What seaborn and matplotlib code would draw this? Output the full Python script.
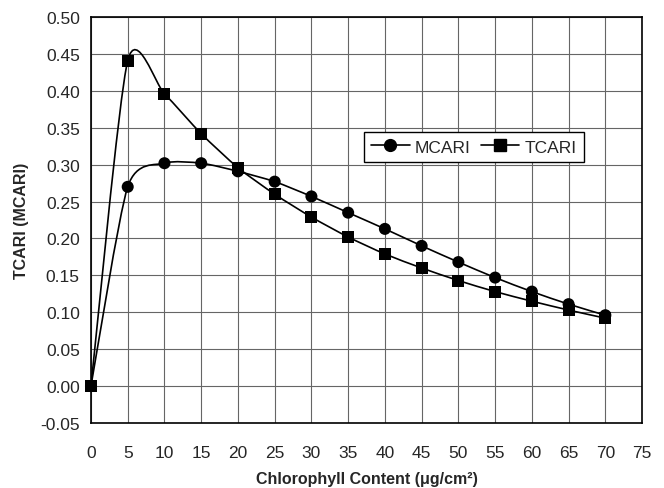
import numpy as np
import pandas as pd
import matplotlib
matplotlib.use('Agg')
import matplotlib.pyplot as plt
import seaborn as sns
from matplotlib.path import Path
from matplotlib.patches import PathPatch
from matplotlib.lines import Line2D

chl = [0, 5, 10, 15, 20, 25, 30, 35, 40, 45, 50, 55, 60, 65, 70]
mcari = [0.0, 0.270, 0.302, 0.302, 0.291, 0.277, 0.257, 0.235, 0.213, 0.190, 0.168, 0.147, 0.128, 0.111, 0.096]
tcari = [0.0, 0.441, 0.396, 0.342, 0.296, 0.260, 0.229, 0.202, 0.179, 0.160, 0.143, 0.128, 0.115, 0.103, 0.092]

df = pd.DataFrame({'chl': chl * 2, 'val': mcari + tcari,
                   'index': ['MCARI'] * len(chl) + ['TCARI'] * len(chl)})

sns.set_style('white')
plt.rcParams['font.family'] = ['Liberation Sans', 'DejaVu Sans']

fig = plt.figure(figsize=(6.64, 4.89), dpi=100)
ax = fig.add_axes([0.137, 0.133, 0.83, 0.83])


def smooth_path(x, y, k=0.12):
    # excel style smoothed line: cubic bezier through the points
    pts = np.column_stack([x, y]).astype(float)
    n = len(pts)
    verts = [pts[0]]
    codes = [Path.MOVETO]
    for i in range(n - 1):
        p0 = pts[max(i - 1, 0)]
        p1 = pts[i]
        p2 = pts[i + 1]
        p3 = pts[min(i + 2, n - 1)]
        verts += [p1 + (p2 - p0) * k, p2 - (p3 - p1) * k, p2]
        codes += [Path.CURVE4] * 3
    return Path(verts, codes)


for name in ['MCARI', 'TCARI']:
    sub = df[df['index'] == name]
    ax.add_patch(PathPatch(smooth_path(sub['chl'].values, sub['val'].values),
                           facecolor='none', edgecolor='black', lw=1.2, zorder=3))

sns.scatterplot(data=df, x='chl', y='val', style='index', markers={'MCARI': 'o', 'TCARI': 's'},
                color='black', s=75, edgecolor='black', linewidth=0, ax=ax, legend=False,
                zorder=4, clip_on=False)

ax.set_xlim(0, 75)
ax.set_ylim(-0.05, 0.50)
ax.set_xticks(np.arange(0, 76, 5))
ax.set_yticks(np.arange(-0.05, 0.501, 0.05))
ax.yaxis.set_major_formatter(matplotlib.ticker.FormatStrFormatter('%.2f'))
ax.grid(True, color='#666666', lw=0.8)
ax.set_axisbelow(True)
for sp in ax.spines.values():
    sp.set_color('black')
    sp.set_linewidth(1.2)
ax.tick_params(axis='both', labelsize=12.5, length=4, width=1, color='black', direction='out', pad=4)
ax.tick_params(axis='x', pad=12)

ax.set_xlabel('Chlorophyll Content (μg/cm²)', fontsize=11.5, fontweight='bold', labelpad=8)
ax.set_ylabel('TCARI (MCARI)', fontsize=11.5, fontweight='bold', labelpad=8)

handles = [Line2D([], [], color='black', marker='o', ms=8.5, lw=1.2),
           Line2D([], [], color='black', marker='s', ms=8.5, lw=1.2)]
leg = ax.legend(handles, ['MCARI', 'TCARI'], ncol=2, loc='center', bbox_to_anchor=(0.695, 0.68),
                fontsize=12.5, frameon=True, fancybox=False, edgecolor='black', framealpha=1,
                handlelength=2.2, columnspacing=0.6, handletextpad=0.3, borderpad=0.45)
leg.get_frame().set_linewidth(1.0)

fig.savefig('out.png', dpi=100)
